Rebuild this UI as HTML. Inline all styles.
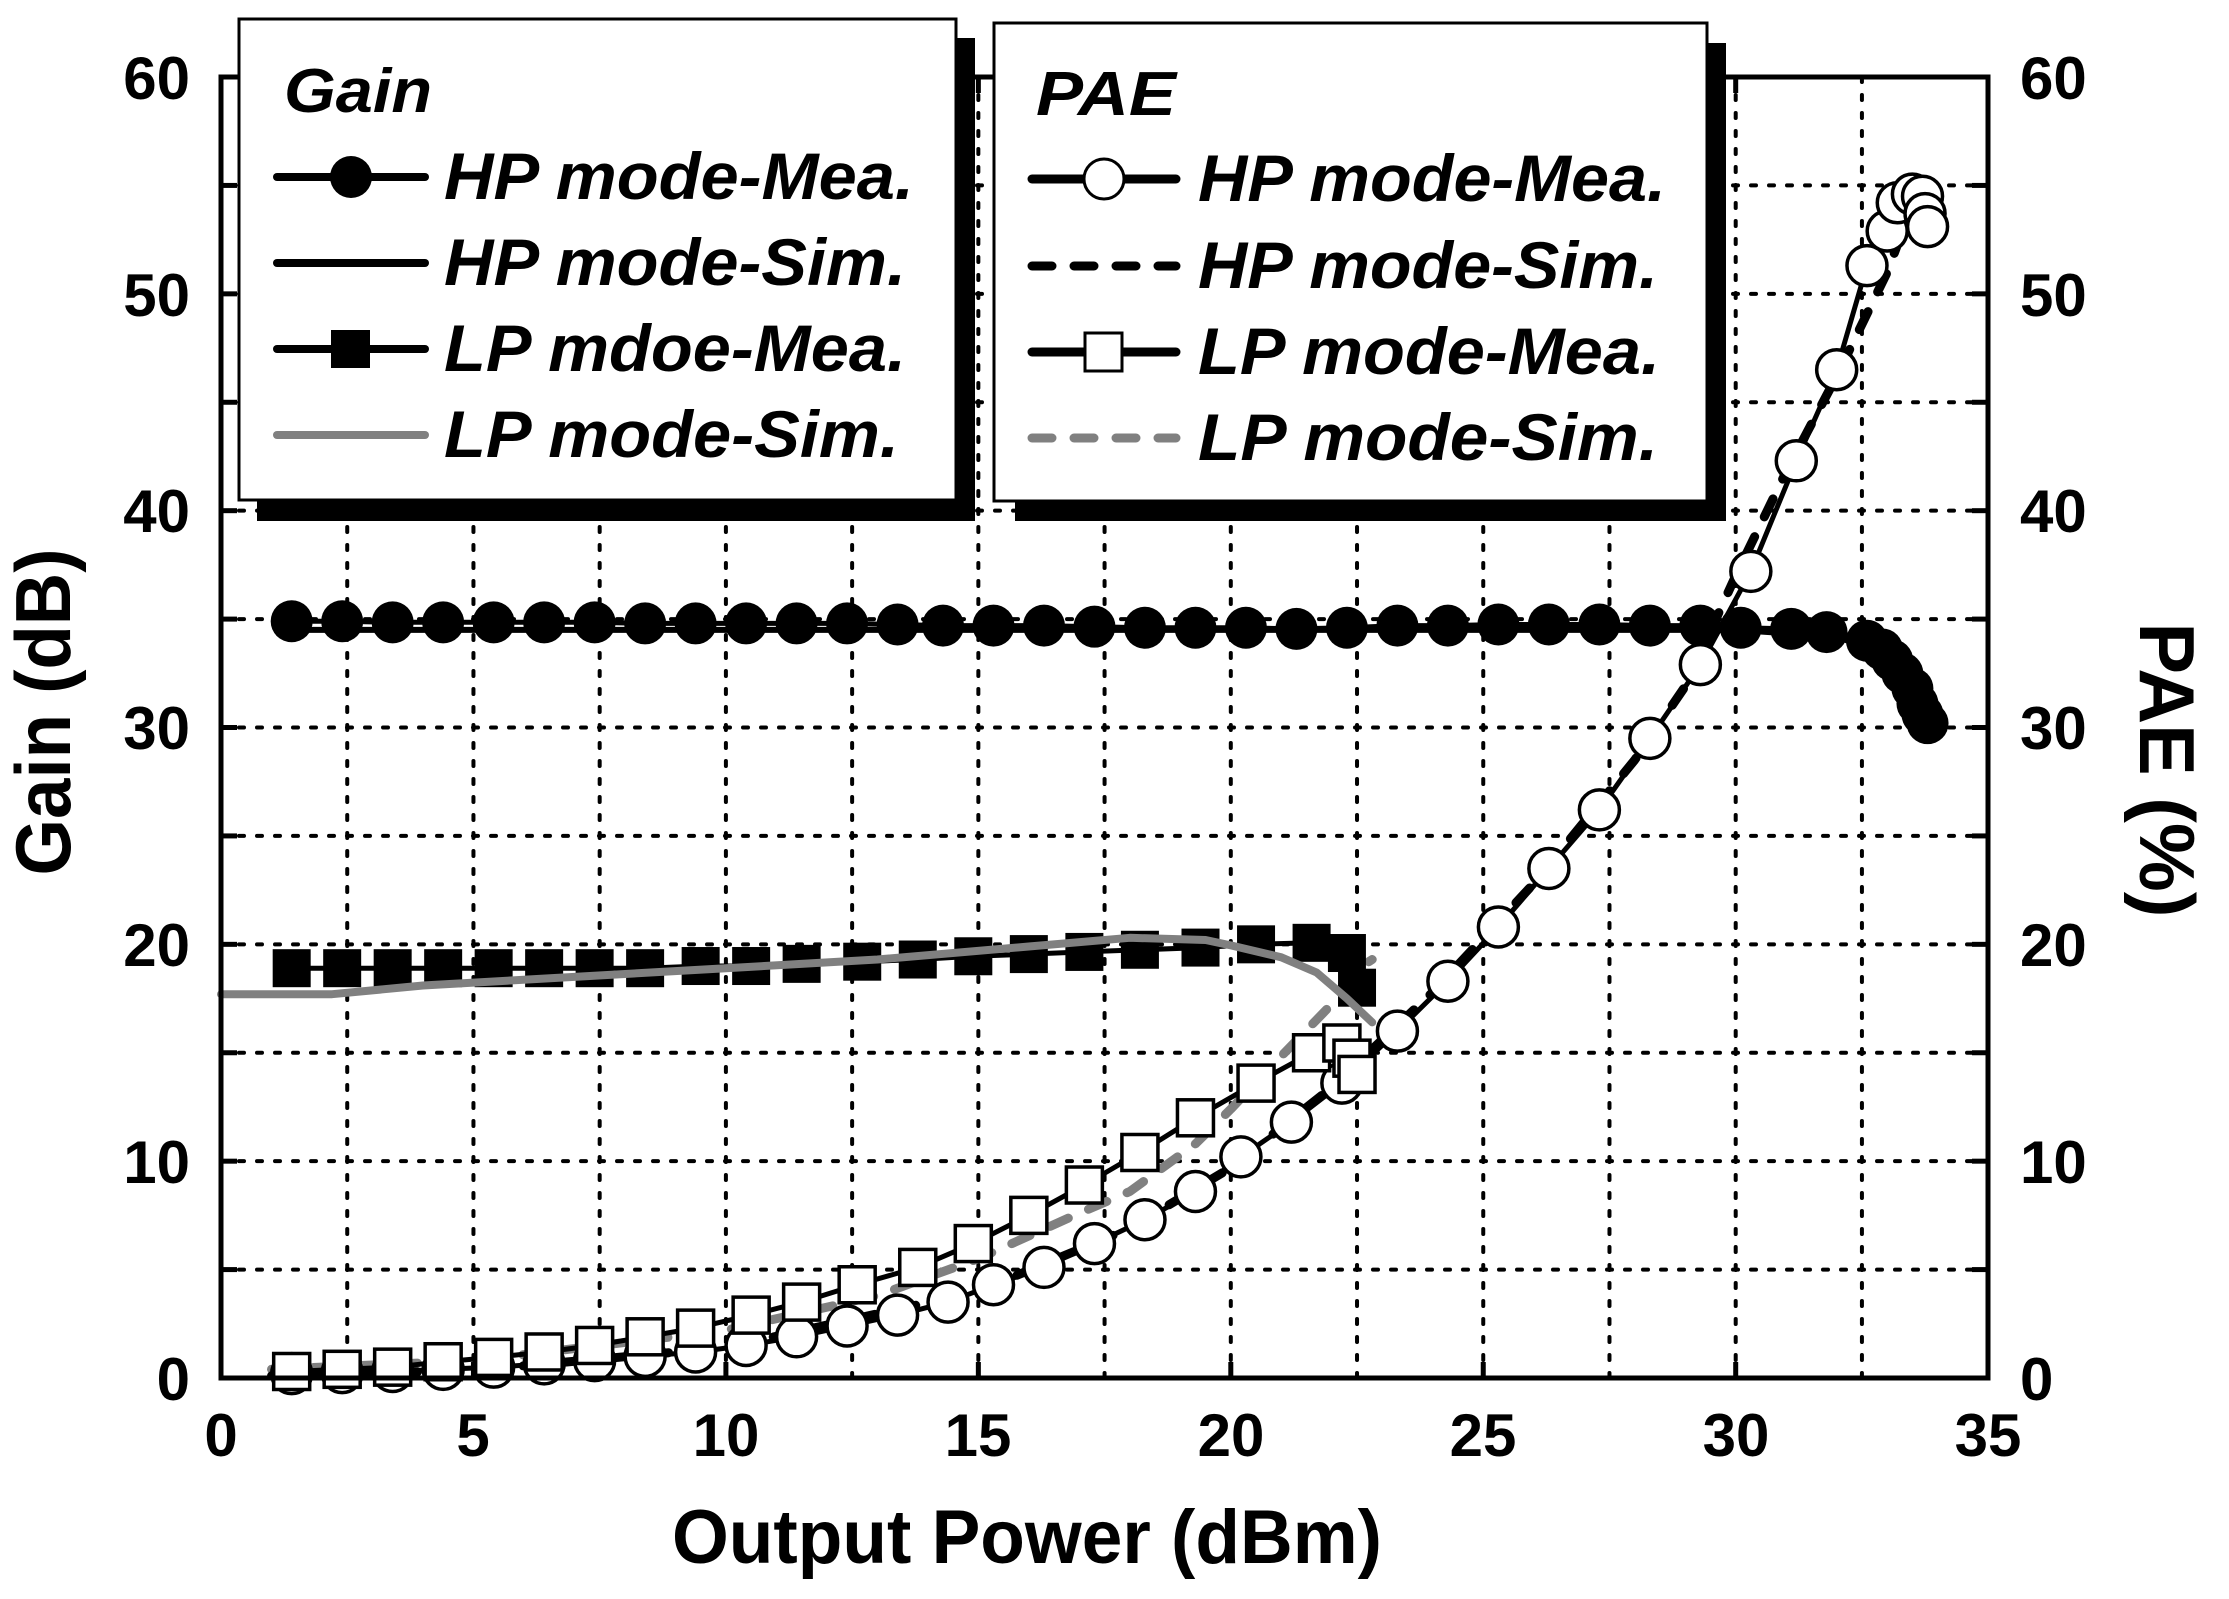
<!DOCTYPE html>
<html><head><meta charset="utf-8">
<style>html,body{margin:0;padding:0;background:#fff}svg{display:block}
text{font-family:"Liberation Sans",Arial,sans-serif;font-weight:bold;fill:#000}</style></head>
<body>
<svg id="s" width="2229" height="1599" viewBox="0 0 2229 1599" xmlns="http://www.w3.org/2000/svg">
<rect width="2229" height="1599" fill="#fff"/>
<g id="grid" stroke="#000" stroke-width="4" stroke-dasharray="5 13" stroke-linecap="round"></g>
<g id="data"></g>
<rect x="221" y="77" width="1767" height="1301" fill="none" stroke="#000" stroke-width="5"/>
<g id="ticks" stroke="#000" stroke-width="5"></g>
<rect x="257" y="38" width="718" height="483" fill="#000"/>
<rect x="239" y="19" width="717" height="481" fill="#fff" stroke="#000" stroke-width="3"/>
<text x="284" y="112" font-size="62" font-style="italic" textLength="148" lengthAdjust="spacingAndGlyphs">Gain</text>
<g stroke="#000" stroke-width="8" stroke-linecap="round">
<line x1="277" y1="177" x2="425" y2="177"/>
<line x1="277" y1="263" x2="425" y2="263"/>
<line x1="277" y1="349" x2="425" y2="349"/>
<line x1="277" y1="435" x2="425" y2="435" stroke="#808080"/>
</g>
<circle cx="351" cy="177" r="21" fill="#000"/>
<rect x="331" y="330" width="39" height="38" fill="#000"/>
<text x="444" y="199" font-size="66" font-style="italic" textLength="470" lengthAdjust="spacingAndGlyphs">HP mode-Mea.</text>
<text x="444" y="285" font-size="66" font-style="italic" textLength="462" lengthAdjust="spacingAndGlyphs">HP mode-Sim.</text>
<text x="444" y="371" font-size="66" font-style="italic" textLength="462" lengthAdjust="spacingAndGlyphs">LP mdoe-Mea.</text>
<text x="444" y="457" font-size="66" font-style="italic" textLength="455" lengthAdjust="spacingAndGlyphs">LP mode-Sim.</text>
<rect x="1015" y="43" width="711" height="478" fill="#000"/>
<rect x="994" y="23" width="713" height="478" fill="#fff" stroke="#000" stroke-width="3"/>
<text x="1036" y="115" font-size="62" font-style="italic" textLength="140" lengthAdjust="spacingAndGlyphs">PAE</text>
<g stroke="#000" stroke-width="9" stroke-linecap="round">
<line x1="1032" y1="179" x2="1176" y2="179"/>
<line x1="1032" y1="266" x2="1176" y2="266" stroke-dasharray="20 22"/>
<line x1="1032" y1="352" x2="1176" y2="352"/>
<line x1="1032" y1="438" x2="1176" y2="438" stroke="#808080" stroke-dasharray="20 22"/>
</g>
<circle cx="1104" cy="179" r="20" fill="#fff" stroke="#000" stroke-width="3"/>
<rect x="1085" y="333" width="37" height="38" fill="#fff" stroke="#000" stroke-width="3"/>
<text x="1198" y="201" font-size="66" font-style="italic" textLength="468" lengthAdjust="spacingAndGlyphs">HP mode-Mea.</text>
<text x="1198" y="288" font-size="66" font-style="italic" textLength="460" lengthAdjust="spacingAndGlyphs">HP mode-Sim.</text>
<text x="1198" y="374" font-size="66" font-style="italic" textLength="462" lengthAdjust="spacingAndGlyphs">LP mode-Mea.</text>
<text x="1198" y="460" font-size="66" font-style="italic" textLength="460" lengthAdjust="spacingAndGlyphs">LP mode-Sim.</text>
<g font-size="60" text-anchor="end">
<text x="190" y="1400">0</text><text x="190" y="1183">10</text><text x="190" y="966">20</text>
<text x="190" y="749">30</text><text x="190" y="532">40</text><text x="190" y="316">50</text><text x="190" y="99">60</text>
</g>
<g font-size="60" text-anchor="start">
<text x="2020" y="1400">0</text><text x="2020" y="1183">10</text><text x="2020" y="966">20</text>
<text x="2020" y="749">30</text><text x="2020" y="532">40</text><text x="2020" y="316">50</text><text x="2020" y="99">60</text>
</g>
<g font-size="60" text-anchor="middle">
<text x="221" y="1456">0</text><text x="473" y="1456">5</text><text x="726" y="1456">10</text><text x="978" y="1456">15</text>
<text x="1231" y="1456">20</text><text x="1483" y="1456">25</text><text x="1736" y="1456">30</text><text x="1988" y="1456">35</text>
</g>
<text x="1027" y="1563" font-size="76" text-anchor="middle" textLength="710" lengthAdjust="spacingAndGlyphs">Output Power (dBm)</text>
<text transform="translate(70,712) rotate(-90)" font-size="78" text-anchor="middle" textLength="327" lengthAdjust="spacingAndGlyphs">Gain (dB)</text>
<text transform="translate(2140,770) rotate(90)" font-size="78" text-anchor="middle" textLength="295" lengthAdjust="spacingAndGlyphs">PAE (%)</text>
</svg>
<script>
var NS="http://www.w3.org/2000/svg";
function X(p){return 221+50.49*p}function Y(v){return 1378-21.683*v}
function el(par,n,a){var e=document.createElementNS(NS,n);for(var k in a)e.setAttribute(k,a[k]);par.appendChild(e);return e}
var g=document.getElementById('grid'),t=document.getElementById('ticks'),d=document.getElementById('data');
for(var p=2.5;p<35;p+=2.5)el(g,'line',{x1:X(p),y1:77,x2:X(p),y2:1378});
for(var v=5;v<60;v+=5)el(g,'line',{x1:221,y1:Y(v),x2:1988,y2:Y(v)});
for(var p=5;p<35;p+=5){el(t,'line',{x1:X(p),y1:1378,x2:X(p),y2:1362});el(t,'line',{x1:X(p),y1:77,x2:X(p),y2:93});}
for(var v=5;v<60;v+=5){el(t,'line',{x1:221,y1:Y(v),x2:237,y2:Y(v)});el(t,'line',{x1:1988,y1:Y(v),x2:1972,y2:Y(v)});}
function pts(a){return a.map(function(q){return X(q[0]).toFixed(1)+','+Y(q[1]).toFixed(1)}).join(' ')}
function line(a,c,w,dash){var o={points:pts(a),fill:'none',stroke:c,'stroke-width':w,'stroke-linejoin':'round','stroke-linecap':'round'};if(dash)o['stroke-dasharray']=dash;el(d,'polyline',o)}
var hp=[[1.4,34.9],[2.4,34.9],[3.4,34.85],[4.4,34.85],[5.4,34.85],[6.4,34.85],[7.4,34.85],[8.4,34.8],[9.4,34.8],[10.4,34.8],[11.4,34.8],[12.4,34.8],[13.4,34.75],[14.3,34.7],[15.3,34.7],[16.3,34.7],[17.3,34.65],[18.3,34.6],[19.3,34.6],[20.3,34.6],[21.3,34.55],[22.3,34.6],[23.3,34.7],[24.3,34.7],[25.3,34.75],[26.3,34.75],[27.3,34.75],[28.3,34.7],[29.3,34.7],[30.1,34.6],[31.1,34.55],[31.8,34.4],[32.6,34.0],[32.9,33.6],[33.1,33.1],[33.3,32.5],[33.5,31.8],[33.6,31.1],[33.7,30.6],[33.8,30.2]];
line([[1.4,34.5],[30,34.5],[32,34.2],[33,33.3],[33.6,31.5],[33.8,30.2]],'#000',6);
line(hp,'#000',5);
var lp=[[1.4,18.9],[2.4,18.9],[3.4,18.9],[4.4,18.9],[5.4,18.9],[6.4,18.9],[7.4,18.9],[8.4,18.9],[9.5,19.0],[10.5,19.0],[11.5,19.1],[12.7,19.2],[13.8,19.3],[14.9,19.45],[16.0,19.55],[17.1,19.65],[18.2,19.75],[19.4,19.85],[20.5,20.0],[21.6,20.07],[22.3,19.6],[22.5,18.0]];
line(lp,'#000',5);
var lpp=[[1.4,0.3],[2.4,0.4],[3.4,0.5],[4.4,0.75],[5.4,0.95],[6.4,1.2],[7.4,1.5],[8.4,1.9],[9.4,2.3],[10.5,2.9],[11.5,3.5],[12.6,4.3],[13.8,5.1],[14.9,6.2],[16.0,7.5],[17.1,8.9],[18.2,10.4],[19.3,12.0],[20.5,13.6],[21.6,15.0],[22.2,15.45],[22.4,14.75],[22.5,14.0]];
var hpp=[[1.4,0.2],[2.4,0.25],[3.4,0.3],[4.4,0.4],[5.4,0.5],[6.4,0.65],[7.4,0.8],[8.4,1.0],[9.4,1.2],[10.4,1.5],[11.4,1.9],[12.4,2.4],[13.4,2.9],[14.4,3.5],[15.3,4.3],[16.3,5.1],[17.3,6.2],[18.3,7.3],[19.3,8.6],[20.2,10.2],[21.2,11.8],[22.2,13.6],[23.3,16.0],[24.3,18.3],[25.3,20.8],[26.3,23.5],[27.3,26.2],[28.3,29.5],[29.3,32.9],[30.3,37.2],[31.2,42.3],[32.0,46.5],[32.6,51.3],[33.0,52.9],[33.2,54.2],[33.5,54.6],[33.7,54.5],[33.75,53.7],[33.8,53.1]];
line([[1,0.4],[5,0.8],[10,2.2],[13,3.8],[15,5.5],[17,7.6],[18,8.6],[19.3,10.8],[20,12.4],[20.9,14.6],[21.9,17.0],[22.6,19.0],[22.8,19.3]],'#808080',9,'20 22');
line([[1,0.1],[5,0.35],[10,1.4],[15,4.0],[18,6.9],[20,9.7],[22,13.4],[24,17.8],[26,22.8],[28,28.5],[29,31.9],[30,37],[31,41.8],[32,46.2],[33,51],[33.4,53.5]],'#000',9,'20 22');
line(hpp,'#000',5);
line(lpp,'#000',5);
lp.forEach(function(q){el(d,'rect',{x:X(q[0])-19,y:Y(q[1])-19,width:38,height:38,fill:'#000'})});
line([[0,17.7],[2.2,17.7],[4,18.1],[7,18.5],[10,18.9],[13,19.3],[16,19.9],[18,20.3],[19.5,20.2],[20,19.95],[21,19.4],[21.7,18.7],[22.3,17.5],[22.8,16.4]],'#808080',8);
hp.forEach(function(q){el(d,'circle',{cx:X(q[0]),cy:Y(q[1]),r:21,fill:'#000'})});
hpp.forEach(function(q){el(d,'circle',{cx:X(q[0]),cy:Y(q[1]),r:20,fill:'#fff',stroke:'#000','stroke-width':3.5})});
lpp.forEach(function(q){el(d,'rect',{x:X(q[0])-18,y:Y(q[1])-18,width:36,height:36,fill:'#fff',stroke:'#000','stroke-width':3.5})});
</script>
</body></html>
